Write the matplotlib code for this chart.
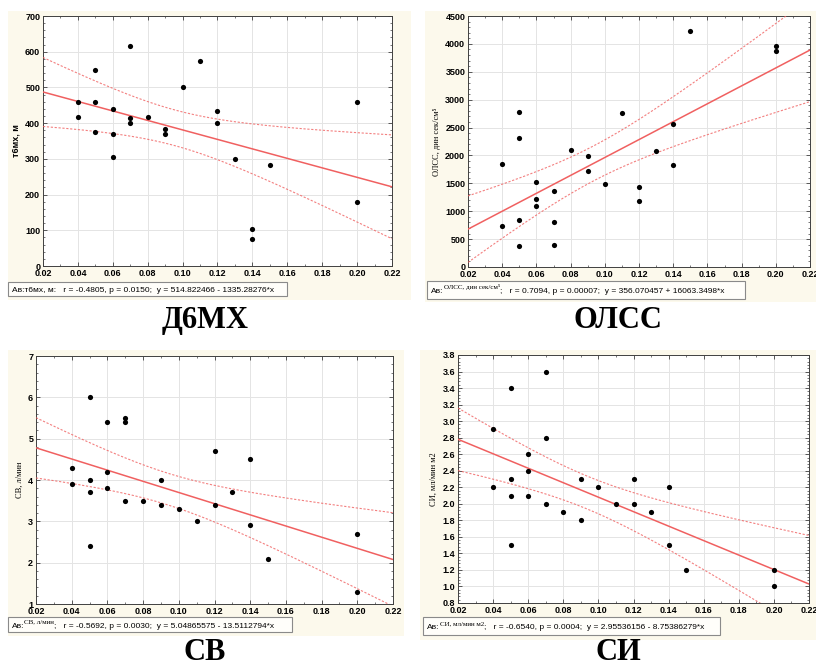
import numpy as np
import matplotlib
matplotlib.use("Agg")
import matplotlib.pyplot as plt
from matplotlib.patches import Rectangle
from matplotlib.text import Annotation
from matplotlib.ticker import AutoMinorLocator, FormatStrFormatter, MultipleLocator

# ---- data ----
x_d6 = [0.04, 0.04, 0.05, 0.05, 0.05, 0.06, 0.06, 0.06, 0.07, 0.07, 0.07, 0.08,
        0.09, 0.09, 0.10, 0.11, 0.12, 0.12, 0.13, 0.14, 0.14, 0.15, 0.20, 0.20]
y_d6 = [460, 418, 550, 458, 375, 440, 370, 305, 615, 415, 400, 418,
        385, 370, 500, 575, 435, 400, 300, 105, 77, 284, 458, 178]

x_olss = [0.04, 0.04, 0.05, 0.05, 0.05, 0.05, 0.06, 0.06, 0.06, 0.07, 0.07, 0.07, 0.08,
          0.09, 0.09, 0.10, 0.11, 0.12, 0.12, 0.13, 0.14, 0.14, 0.15, 0.20, 0.20]
y_olss = [1850, 740, 2775, 2320, 840, 375, 1520, 1220, 1100, 1360, 800, 400, 2090,
          1990, 1720, 1480, 2760, 1440, 1190, 2080, 2560, 1820, 4240, 3960, 3880]

x_sv = [0.04, 0.04, 0.05, 0.05, 0.05, 0.05, 0.06, 0.06, 0.06, 0.07, 0.07, 0.07, 0.08,
        0.09, 0.09, 0.10, 0.11, 0.12, 0.12, 0.13, 0.14, 0.14, 0.15, 0.20, 0.20]
y_sv = [4.3, 3.9, 6.0, 4.0, 3.7, 2.4, 5.4, 4.2, 3.8, 5.5, 5.4, 3.5, 3.5,
        4.0, 3.4, 3.3, 3.0, 4.7, 3.4, 3.7, 4.5, 2.9, 2.1, 2.7, 1.3]

x_si = [0.04, 0.04, 0.05, 0.05, 0.05, 0.05, 0.06, 0.06, 0.06, 0.07, 0.07, 0.07, 0.08,
        0.09, 0.09, 0.10, 0.11, 0.12, 0.12, 0.13, 0.14, 0.14, 0.15, 0.20, 0.20]
y_si = [2.9, 2.2, 3.4, 2.3, 2.1, 1.5, 2.6, 2.4, 2.1, 3.6, 2.8, 2.0, 1.9,
        2.3, 1.8, 2.2, 2.0, 2.3, 2.0, 1.9, 2.2, 1.5, 1.2, 1.2, 1.0]

titles = ["Д6МХ", "ОЛСС", "СВ", "СИ"]
ylabels = ["т6мх, м", "ОЛСС, дин сек/см⁵", "СВ, л/мин", "СИ, мл/мин м2"]
stats = ["r = -0.4805, p = 0.0150;  y = 514.822466 - 1335.28276*x",
         "r = 0.7094, p = 0.00007;  y = 356.070457 + 16063.3498*x",
         "r = -0.5692, p = 0.0030;  y = 5.04865575 - 13.5112794*x",
         "r = -0.6540, p = 0.0004;  y = 2.95536156 - 8.75386279*x"]

W, H = 816, 666
CREAM = "#fcf9ec"
RED = "#f06060"
SERIF = ["Liberation Serif", "DejaVu Serif"]

fig = plt.figure(figsize=(W / 100, H / 100), dpi=100)
fig.patch.set_facecolor("white")


def box(l, t, r, b):
    # pixel box (from top-left) -> figure fraction rect
    return [l / W, 1 - b / H, (r - l) / W, (b - t) / H]


def px(x, y):
    return x / W, 1 - y / H


# cream panels behind each chart
for l, t, r, b in [(8, 11, 411, 300), (425, 11, 816, 302), (8, 350, 404, 636), (420, 350, 816, 640)]:
    fig.patches.append(Rectangle((l / W, 1 - b / H), (r - l) / W, (b - t) / H,
                                 transform=fig.transFigure, facecolor=CREAM,
                                 edgecolor="none", zorder=-5))


def panel(rect, xs, ys, ylim, ystep, yfmt, ylabel, ylab_serif):
    ax = fig.add_axes(box(*rect))
    ax.set_facecolor("white")
    xs = np.array(xs, dtype=float)
    ys = np.array(ys, dtype=float)
    n = len(xs)
    slope, icpt = np.polyfit(xs, ys, 1)
    xx = np.linspace(0.02, 0.22, 200)
    yy = icpt + slope * xx
    res = ys - (icpt + slope * xs)
    s = np.sqrt(np.sum(res ** 2) / (n - 2))
    sxx = np.sum((xs - xs.mean()) ** 2)
    half = 2.07 * s * np.sqrt(1 / n + (xx - xs.mean()) ** 2 / sxx)
    ax.plot(xx, yy, color=RED, lw=1.1, zorder=3)
    ax.plot(xx, yy + half, color=RED, lw=0.8, ls=(0, (2, 1.5)), alpha=0.8, zorder=3)
    ax.plot(xx, yy - half, color=RED, lw=0.8, ls=(0, (2, 1.5)), alpha=0.8, zorder=3)
    ax.scatter(xs, ys, s=14, color="black", zorder=4, linewidths=0)

    ax.set_xlim(0.02, 0.22)
    ax.set_ylim(*ylim)
    ax.xaxis.set_major_locator(MultipleLocator(0.02))
    ax.yaxis.set_major_locator(MultipleLocator(ystep))
    ax.xaxis.set_major_formatter(FormatStrFormatter("%.2f"))
    ax.yaxis.set_major_formatter(FormatStrFormatter(yfmt))
    ax.xaxis.set_minor_locator(AutoMinorLocator(2))
    ax.yaxis.set_minor_locator(AutoMinorLocator(5))
    ax.tick_params(which="both", direction="in", top=True, right=True, color="#404040")
    ax.tick_params(which="major", length=3, width=0.6, labelsize=6.5, pad=2)
    ax.tick_params(which="minor", length=1.5, width=0.5)
    for lab in ax.get_xticklabels() + ax.get_yticklabels():
        lab.set_fontweight("bold")
        lab.set_family("Liberation Sans")
    ax.grid(True, which="major", color="#e4e4e4", lw=0.7, zorder=0)
    ax.set_axisbelow(True)
    for sp in ax.spines.values():
        sp.set_color("#404040")
        sp.set_linewidth(0.7)
    if ylab_serif:
        ax.set_ylabel(ylabel, fontsize=6, family=SERIF, labelpad=3)
    else:
        ax.set_ylabel(ylabel, fontsize=6.5, family="Liberation Sans", fontweight="bold", labelpad=3)
    return ax


panel((43, 16, 392, 266), x_d6, y_d6, (0, 700), 100, "%d", ylabels[0], False)
panel((468, 16, 810, 267), x_olss, y_olss, (0, 4500), 500, "%d", ylabels[1], True)
panel((36, 356, 393, 604), x_sv, y_sv, (1, 7), 1, "%d", ylabels[2], True)
panel((458, 355, 809, 603), x_si, y_si, (0.8, 3.8), 0.2, "%.1f", ylabels[3], True)


def stat_box(l, t, r, b, sup=None, rest=None, plain=None):
    fig.patches.append(Rectangle((l / W, 1 - b / H), (r - l) / W, (b - t) / H,
                                 transform=fig.transFigure, facecolor="#fffefa",
                                 edgecolor="#8a8a8a", lw=0.8, zorder=1))
    x0, y0 = px(l + 4, (t + b) / 2 + 3)
    if plain is not None:
        fig.text(x0, y0, plain, fontsize=6, family="Liberation Sans", va="baseline", zorder=2)
        return
    t1 = fig.text(x0, y0, "Ав:", fontsize=6, family="Liberation Sans", va="baseline", zorder=2)
    a2 = Annotation(sup, xy=(1, 0), xycoords=t1, xytext=(0, 3.5), textcoords="offset points",
                    fontsize=5, family=SERIF, va="bottom", ha="left", zorder=2)
    fig.add_artist(a2)
    a3 = Annotation(";   " + rest, xy=(1, 0), xycoords=(a2, t1), fontsize=6,
                    family="Liberation Sans", va="bottom", ha="left", zorder=2)
    fig.add_artist(a3)


stat_box(8, 282, 287, 296, plain="Ав:т6мх, м:   " + stats[0])
stat_box(427, 281, 745, 299, ylabels[1], stats[1])
stat_box(8, 617, 292, 632, ylabels[2], stats[2])
stat_box(423, 617, 720, 635, ylabels[3], stats[3])

title_font = dict(fontsize=22, fontweight="bold", family="Liberation Serif", ha="center", va="center")
fig.text(*px(205, 320), titles[0], **title_font)
fig.text(*px(618, 320), titles[1], **title_font)
fig.text(*px(205, 652), titles[2], **title_font)
fig.text(*px(618, 652), titles[3], **title_font)

fig.savefig("out.png", dpi=100)
